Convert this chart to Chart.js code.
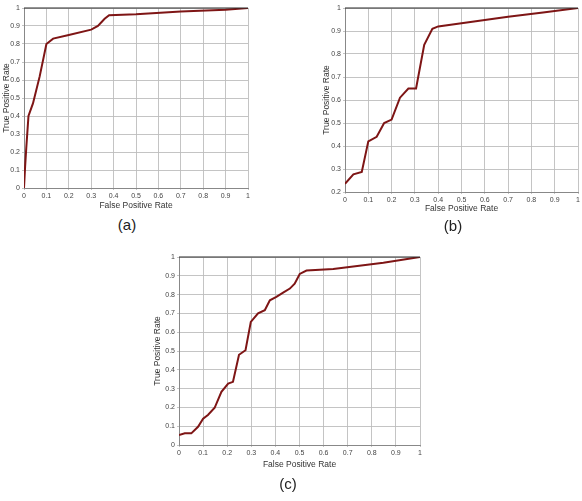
<!DOCTYPE html>
<html>
<head>
<meta charset="utf-8">
<script src="https://cdn.jsdelivr.net/npm/chart.js@4.4.1/dist/chart.umd.min.js"></script>
<style>
  html, body { margin: 0; padding: 0; background: #fff; }
  body { width: 582px; height: 501px; position: relative; overflow: hidden; font-family: "Liberation Sans", Arial, sans-serif; }
  .box { position: absolute; }
  .cap { position: absolute; font-size: 15px; color: #222; transform: translate(-50%, -50%); }
</style>
</head>
<body>
<div class="box" style="left:0;top:0;width:260px;height:215px"><canvas id="rocA"></canvas></div>
<div class="box" style="left:300px;top:0;width:282px;height:220px"><canvas id="rocB"></canvas></div>
<div class="box" style="left:150px;top:245px;width:280px;height:230px"><canvas id="rocC"></canvas></div>
<div class="cap" style="left:127px;top:224px">(a)</div>
<div class="cap" style="left:453px;top:225px">(b)</div>
<div class="cap" style="left:288px;top:483px">(c)</div>
<script>
// ROC curve (a)
var fprA = [0, 0.005, 0.01, 0.02, 0.04, 0.07, 0.1, 0.13, 0.2, 0.3, 0.33, 0.36, 0.38, 0.5, 0.7, 0.9, 1];
var tprA = [0, 0.12, 0.22, 0.4, 0.47, 0.62, 0.8, 0.83, 0.85, 0.88, 0.9, 0.94, 0.96, 0.965, 0.98, 0.99, 1];
// ROC curve (b)
var fprB = [0, 0.036, 0.072, 0.1, 0.136, 0.168, 0.2, 0.236, 0.272, 0.305, 0.34, 0.375, 0.4, 0.5, 0.7, 0.85, 1];
var tprB = [0.236, 0.277, 0.287, 0.42, 0.44, 0.5, 0.515, 0.61, 0.65, 0.65, 0.84, 0.91, 0.92, 0.934, 0.962, 0.98, 1];
// ROC curve (c)
var fprC = [0, 0.024, 0.051, 0.079, 0.1, 0.12, 0.148, 0.176, 0.204, 0.224, 0.249, 0.276, 0.298, 0.328, 0.356, 0.377, 0.404, 0.432, 0.46, 0.48, 0.501, 0.529, 0.64, 0.848, 1];
var tprC = [0.053, 0.062, 0.062, 0.097, 0.14, 0.16, 0.198, 0.283, 0.327, 0.336, 0.48, 0.504, 0.655, 0.7, 0.717, 0.77, 0.788, 0.81, 0.832, 0.858, 0.91, 0.928, 0.936, 0.97, 1];

var xTicks = [0, 0.1, 0.2, 0.3, 0.4, 0.5, 0.6, 0.7, 0.8, 0.9, 1];
var xTitle = 'False Positive Rate';
var yTitle = 'True Positive Rate';

function toPoints(xs, ys) {
	return xs.map(function(x, i) { return { x: x, y: ys[i] }; });
}

function fmt(v) {
	return String(Number(v.toFixed(1)));
}

// dark frame line along the top of the plot
var topFrame = {
	id: 'topFrame',
	afterDraw: function(chart) {
		var a = chart.chartArea, ctx = chart.ctx;
		ctx.save();
		ctx.strokeStyle = '#2a2a2a';
		ctx.lineWidth = 1.2;
		ctx.beginPath();
		ctx.moveTo(a.left, a.top);
		ctx.lineTo(a.right, a.top);
		ctx.stroke();
		ctx.restore();
	}
};

function makeRoc(id, xs, ys, yMin, o) {
	var ctx = document.getElementById(id).getContext('2d');
	return new Chart(ctx, {
		type: 'line',
		data: {
			datasets: [{
				data: toPoints(xs, ys),
				borderColor: '#7e1515',
				borderWidth: 2,
				pointRadius: 0,
				tension: 0,
				fill: false
			}]
		},
		options: {
			responsive: true,
			maintainAspectRatio: false,
			animation: false,
			layout: { padding: o.pad },
			plugins: { legend: { display: false }, tooltip: { enabled: false } },
			scales: {
				x: {
					type: 'linear', min: 0, max: 1,
					afterBuildTicks: function(s) { s.ticks = xTicks.map(function(v) { return { value: v }; }); },
					afterFit: function(s) { s.height = o.xh; },
					ticks: { callback: fmt, maxRotation: 0, autoSkip: false, padding: 2, color: '#444', font: { size: 7, family: 'Liberation Sans' } },
					grid: { color: '#bdbdbd', lineWidth: 0.9, tickLength: 2 },
					border: { color: '#888' },
					title: { display: true, text: xTitle, color: '#333', padding: { top: 0, bottom: o.xtp }, font: { size: 8.5, family: 'Liberation Sans' } }
				},
				y: {
					min: yMin, max: 1,
					ticks: { stepSize: 0.1, callback: fmt, padding: 2, color: '#444', font: { size: 7, family: 'Liberation Sans' } },
					afterFit: function(s) { s.width = o.yw; },
					grid: { color: '#bdbdbd', lineWidth: 0.9, tickLength: 2 },
					border: { color: '#888' },
					title: { display: true, text: yTitle, color: '#333', padding: { top: o.ytp, bottom: 0 }, font: { size: 8.5, family: 'Liberation Sans' } }
				}
			}
		},
		plugins: [topFrame]
	});
}

makeRoc('rocA', fprA, tprA, 0, { pad: { left: 0, right: 12, top: 8, bottom: 0 }, yw: 24, xh: 27, xtp: 4, ytp: 2 });
makeRoc('rocB', fprB, tprB, 0.2, { pad: { left: 20, right: 4, top: 8, bottom: 4 }, yw: 25, xh: 24, xtp: 2, ytp: 2 });
makeRoc('rocC', fprC, tprC, 0, { pad: { left: 2, right: 10, top: 12, bottom: 3 }, yw: 27, xh: 27, xtp: 2, ytp: 1 });
</script>
</body>
</html>
